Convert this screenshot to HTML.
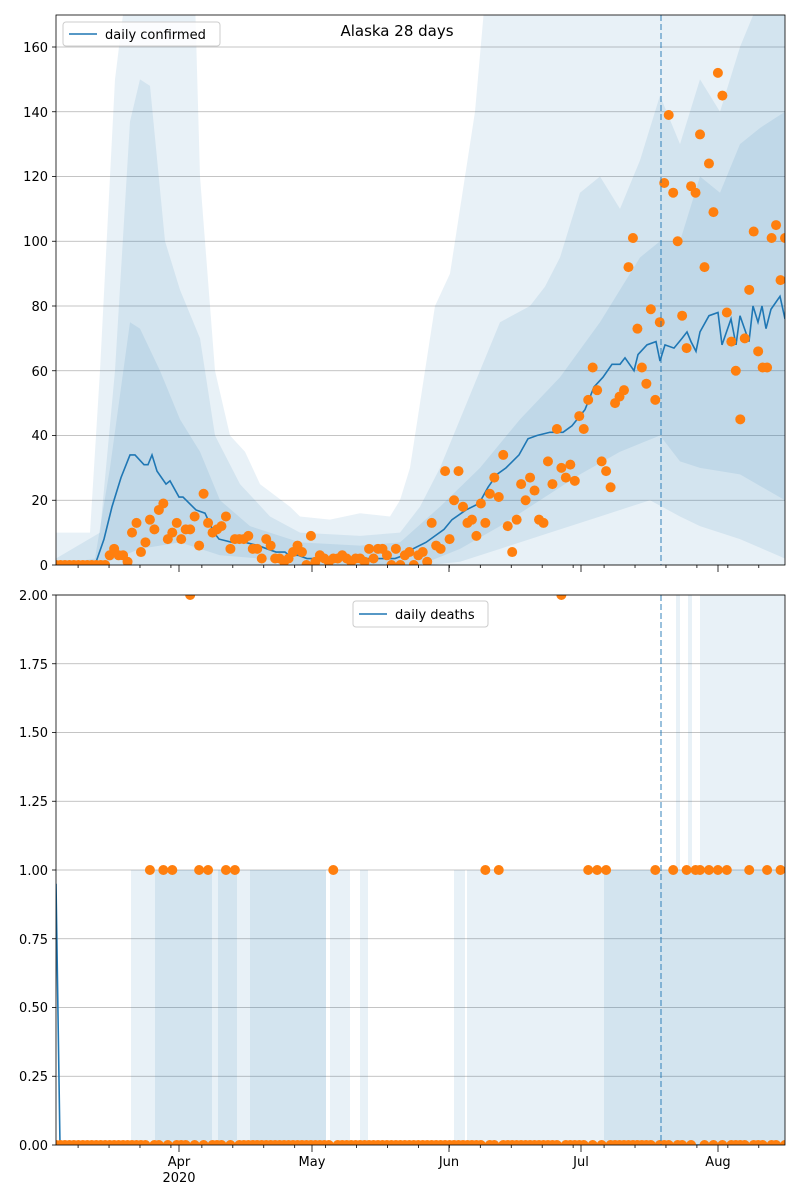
<!DOCTYPE html>
<html><head><meta charset="utf-8"><style>
body{margin:0;background:#fff;}
svg{display:block;font-family:"DejaVu Sans","Liberation Sans",sans-serif;}
</style></head><body>
<svg id="s" width="800" height="1200" viewBox="0 0 800 1200" xmlns="http://www.w3.org/2000/svg">
<defs>
<clipPath id="c1"><rect x="56" y="15" width="729" height="550"/></clipPath>
<clipPath id="c2"><rect x="56" y="595" width="729" height="550"/></clipPath>
</defs>
<rect width="800" height="1200" fill="#fff"/>
<g id="grid" stroke="#b0b0b0" stroke-width="0.8"></g>
<g id="gtop" clip-path="url(#c1)"></g>
<g id="gbot" clip-path="url(#c2)"></g>
<g fill="none" stroke="#000" stroke-width="0.8">
<rect x="56" y="15" width="729" height="550"/>
<rect x="56" y="595" width="729" height="550"/>
</g>
<g id="ticks" stroke="#000" stroke-width="0.8"></g>
<g font-size="13" fill="#000" text-anchor="end">
<text x="48" y="570">0</text><text x="48" y="505">20</text><text x="48" y="440">40</text><text x="48" y="376">60</text><text x="48" y="311">80</text><text x="48" y="246">100</text><text x="48" y="181">120</text><text x="48" y="117">140</text><text x="48" y="52">160</text>
<text x="48" y="1150">0.00</text><text x="48" y="1081">0.25</text><text x="48" y="1012">0.50</text><text x="48" y="944">0.75</text><text x="48" y="875">1.00</text><text x="48" y="806">1.25</text><text x="48" y="737">1.50</text><text x="48" y="669">1.75</text><text x="48" y="600">2.00</text>
</g>
<g font-size="13" fill="#000" text-anchor="middle">
<text x="179" y="1166">Apr</text><text x="179" y="1182">2020</text>
<text x="312" y="1166">May</text><text x="449" y="1166">Jun</text><text x="581" y="1166">Jul</text><text x="718" y="1166">Aug</text>
<text x="397" y="36" font-size="15">Alaska 28 days</text>
</g>
<rect x="63" y="22" width="157" height="24" rx="3" fill="#fff" fill-opacity="0.8" stroke="#ccc"/>
<line x1="69" y1="34" x2="97" y2="34" stroke="#1f77b4" stroke-width="1.5"/>
<text x="105" y="39" font-size="13">daily confirmed</text>
<rect x="353" y="601" width="135" height="26" rx="3" fill="#fff" fill-opacity="0.8" stroke="#ccc"/>
<line x1="359" y1="614" x2="387" y2="614" stroke="#1f77b4" stroke-width="1.5"/>
<text x="395" y="619" font-size="13">daily deaths</text>
</svg>
<script>
(function(){
const NS="http://www.w3.org/2000/svg";
function el(p,t,a){const e=document.createElementNS(NS,t);for(const k in a)e.setAttribute(k,a[k]);p.appendChild(e);return e;}
const gTop=document.getElementById('gtop'),gBot=document.getElementById('gbot'),grid=document.getElementById('grid'),ticks=document.getElementById('ticks');
const Y1=v=>565-v*3.2375, Y2=v=>1145-v*275;
for(let v=0;v<=160;v+=20){el(grid,'line',{x1:56,x2:785,y1:Y1(v),y2:Y1(v)});el(ticks,'line',{x1:52,x2:56,y1:Y1(v),y2:Y1(v)});}
for(let v=0;v<=2;v+=0.25){el(grid,'line',{x1:56,x2:785,y1:Y2(v),y2:Y2(v)});el(ticks,'line',{x1:52,x2:56,y1:Y2(v),y2:Y2(v)});}
[179,312,449,581,718].forEach(x=>{el(ticks,'line',{x1:x,x2:x,y1:565,y2:572});el(ticks,'line',{x1:x,x2:x,y1:1145,y2:1152});});
for(let x=56+4.42*5;x<785;x+=4.42*7){el(ticks,'line',{x1:x,x2:x,y1:565,y2:568});el(ticks,'line',{x1:x,x2:x,y1:1145,y2:1148});}
function band(g,Y,up,lo,op){let pts=up.map(p=>p[0]+','+Y(p[1]));pts=pts.concat(lo.slice().reverse().map(p=>p[0]+','+Y(p[1])));el(g,'polygon',{points:pts.join(' '),fill:'#1f77b4','fill-opacity':op});}
const outU=[[56,10],[90,10],[100,60],[115,150],[125,175],[195,175],[200,120],[215,60],[230,40],[245,35],[260,25],[290,18],[300,15],[330,14],[360,16],[390,15],[400,20],[410,30],[425,60],[435,80],[450,90],[460,110],[475,140],[485,175],[785,175]];
const outL=[[56,0],[785,0]];
const midU=[[56,2],[100,10],[115,60],[130,137],[140,150],[150,148],[165,100],[180,85],[200,70],[215,40],[240,25],[270,15],[300,10],[360,9],[400,10],[420,18],[440,30],[460,45],[480,60],[500,75],[530,80],[545,86],[560,95],[580,115],[600,120],[620,110],[640,125],[660,145],[680,130],[700,150],[720,140],[740,160],[760,175],[785,175]];
const midL=[[56,0],[430,0],[460,1],[500,5],[550,10],[600,15],[650,20],[680,15],[700,12],[740,8],[785,2]];
const inU=[[56,0],[95,2],[110,30],[130,75],[140,73],[160,60],[180,45],[200,35],[220,20],[250,12],[300,7],[360,6],[400,7],[440,18],[480,30],[520,45],[560,58],[600,75],[640,95],[660,100],[680,100],[700,120],[720,115],[740,130],[760,135],[785,140]];
const inL=[[56,0],[100,0],[140,5],[180,7],[220,3],[260,2],[300,0],[420,0],[460,5],[500,12],[540,20],[580,28],[620,35],[660,40],[680,32],[700,30],[740,28],[785,20]];
band(gTop,Y1,outU,outL,0.1);band(gTop,Y1,midU,midL,0.1);band(gTop,Y1,inU,inL,0.1);
const line=[[56,0],[95,0],[104,8],[112,18],[121,27],[130,34],[135,34],[144,31],[148,31],[152,34],[157,29],[166,25],[170,26],[179,21],[183,21],[196,17],[205,16],[214,10],[219,8],[232,7],[245,7],[258,6],[267,5],[276,4],[285,4],[289,3],[298,3],[307,2],[316,2],[329,2],[342,2],[355,2],[369,2],[382,2],[395,2],[404,3],[413,5],[426,7],[435,9],[444,11],[452,14],[466,17],[479,19],[488,24],[497,28],[506,30],[519,34],[528,39],[537,40],[550,41],[563,41],[572,43],[585,48],[594,55],[603,58],[612,62],[620,62],[625,64],[634,60],[638,65],[647,68],[656,69],[660,63],[665,68],[674,67],[682,70],[687,72],[691,69],[696,66],[700,72],[709,77],[718,78],[722,68],[731,76],[736,68],[740,77],[749,69],[753,80],[758,75],[762,80],[766,73],[771,79],[780,83],[785,76]];
el(gTop,'polyline',{points:line.map(p=>p[0]+','+Y1(p[1])).join(' '),fill:'none',stroke:'#1f77b4','stroke-width':1.6});
const vals=[0,0,0,0,0,0,0,0,0,0,0,0,3,5,3,3,1,10,13,4,7,14,11,17,19,8,10,13,8,11,11,15,6,22,13,10,11,12,15,5,8,8,8,9,5,5,2,8,6,2,2,1,2,4,6,4,0,9,1,3,2,1,2,2,3,2,1,2,2,1,5,2,5,5,3,0,5,0,3,4,0,3,4,1,13,6,5,29,8,20,29,18,13,14,9,19,13,22,27,21,34,12,4,14,25,20,27,23,14,13,32,25,42,30,27,31,26,46,42,51,61,54,32,29,24,50,52,54,92,101,73,61,56,79,51,75,118,139,115,100,77,67,117,115,133,92,124,109,152,145,78,69,60,45,70,85,103,66,61,61,101,105,88,101];
const step=(785-56)/(vals.length-1);
vals.forEach((v,i)=>el(gTop,'circle',{cx:56+i*step,cy:Y1(v),r:5,fill:'#ff7f0e'}));
el(gTop,'line',{x1:661,x2:661,y1:15,y2:565,stroke:'#1f77b4','stroke-dasharray':'6,3','stroke-opacity':0.6,'stroke-width':1.5});
function r(x1,x2,v1,v2,op){el(gBot,'rect',{x:x1,y:Y2(v2),width:x2-x1,height:Y2(v1)-Y2(v2),fill:'#1f77b4','fill-opacity':op});}
r(131,326,0,1,0.1);r(155,212,0,1,0.1);r(218,237,0,1,0.1);r(250,326,0,1,0.1);r(330,350,0,1,0.1);r(360,368,0,1,0.1);
r(454,465,0,1,0.1);r(467,785,0,1,0.1);r(604,661,0,1,0.1);r(661,785,0,1,0.1);r(700,785,1,2.1,0.1);r(676,680,1,2.1,0.1);r(688,692,1,2.1,0.1);
el(gBot,'polyline',{points:`56,${Y2(0.95)} 60,${Y2(0)} 785,${Y2(0)}`,fill:'none',stroke:'#1f77b4','stroke-width':1.6});
const ones=[148,162,171,197,210,224,237,334,484,498,590,595,608,657,674,688,697,701,710,719,728,750,767,781];
const twos=[192,560];
for(let i=0;i<vals.length;i++){const x=56+i*step;let v=0;
 if(twos.some(t=>Math.abs(t-x)<2.2))v=2;else if(ones.some(t=>Math.abs(t-x)<2.2))v=1;
 el(gBot,'circle',{cx:x,cy:Y2(v),r:5,fill:'#ff7f0e'});}
el(gBot,'line',{x1:661,x2:661,y1:595,y2:1145,stroke:'#1f77b4','stroke-dasharray':'6,3','stroke-opacity':0.6,'stroke-width':1.5});
})();
</script>
</body></html>
